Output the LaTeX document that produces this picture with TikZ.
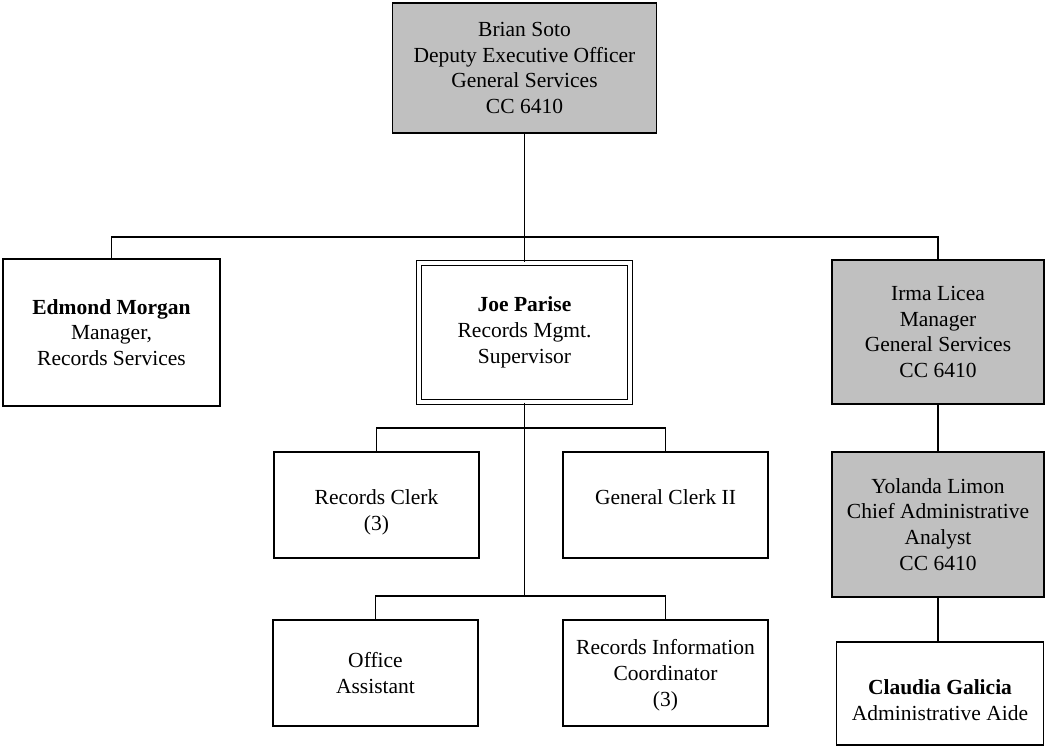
\documentclass[tikz,border=0pt]{standalone}
\usepackage{fontspec}
\setmainfont{Liberation Serif}
\definecolor{boxgray}{RGB}{192,192,192}
\newcommand{\toppad}{\rule{0pt}{29pt}}
\begin{document}
\begin{tikzpicture}[x=1pt,y=-1pt,
  box/.style={draw, line width=1.9pt, align=center, inner sep=0pt,
    font=\fontsize{21.5}{25.8}\selectfont, fill=white},
  gbox/.style={box, fill=boxgray},
  dbox/.style={box, double=white, double distance=3.2pt, line width=1.2pt},
  conn/.style={line width=1.9pt}]
\useasboundingbox (0,0) rectangle (1047,751);
% nodes
\node[gbox, minimum width=264pt, minimum height=130pt] (top) at (524.5,68)
  {Brian Soto\\Deputy Executive Officer\\General Services\\CC 6410};
\node[box, minimum width=217pt, minimum height=147pt] (edm) at (111.5,332.5)
  {\textbf{Edmond Morgan}\\Manager,\\Records Services};
\node[dbox, minimum width=211pt, minimum height=139pt] (joe) at (524.5,332.5)
  {\textbf{Joe Parise}\\Records Mgmt.\\Supervisor};
\node[gbox, minimum width=212pt, minimum height=144pt] (irma) at (938,332)
  {Irma Licea\\Manager\\General Services\\CC 6410};
\node[gbox, minimum width=212pt, minimum height=145pt] (yol) at (938,524.5)
  {Yolanda Limon\\Chief Administrative\\Analyst\\CC 6410};
\node[box, minimum width=207pt, minimum height=103pt] (cla) at (940,693.5)
  {\toppad\textbf{Claudia Galicia}\\Administrative Aide};
\node[box, minimum width=205pt, minimum height=106pt] (rc) at (376.5,505)
  {\toppad Records Clerk\\(3)};
\node[box, minimum width=205pt, minimum height=106pt] (gc) at (665.5,505)
  {\toppad General Clerk II\\\phantom{(3)}};
\node[box, minimum width=205pt, minimum height=106pt] (oa) at (375.5,673)
  {Office\\Assistant};
\node[box, minimum width=205pt, minimum height=106pt, text depth=-4pt] (ric) at (665.5,673)
  {Records Information\\Coordinator\\(3)};
% bus coordinates
\coordinate (b1) at (524.5,237);
\coordinate (b2) at (524.5,428);
\coordinate (b3) at (524.5,596);
% connectors
\draw[conn] (top.south) -- (b1);
\draw[conn] (b1) -| (edm.north);
\draw[conn] (b1) -| (irma.north);
\draw[conn] (b1) -- (joe.north);
\draw[conn] (joe.south) -- (b3);
\draw[conn] (b2) -| (rc.north);
\draw[conn] (b2) -| (gc.north);
\draw[conn] (b3) -| (oa.north);
\draw[conn] (b3) -| (ric.north);
\draw[conn] (irma.south) -- (yol.north);
\draw[conn] (yol.south) -- (yol.south |- cla.north);
\end{tikzpicture}
\end{document}
